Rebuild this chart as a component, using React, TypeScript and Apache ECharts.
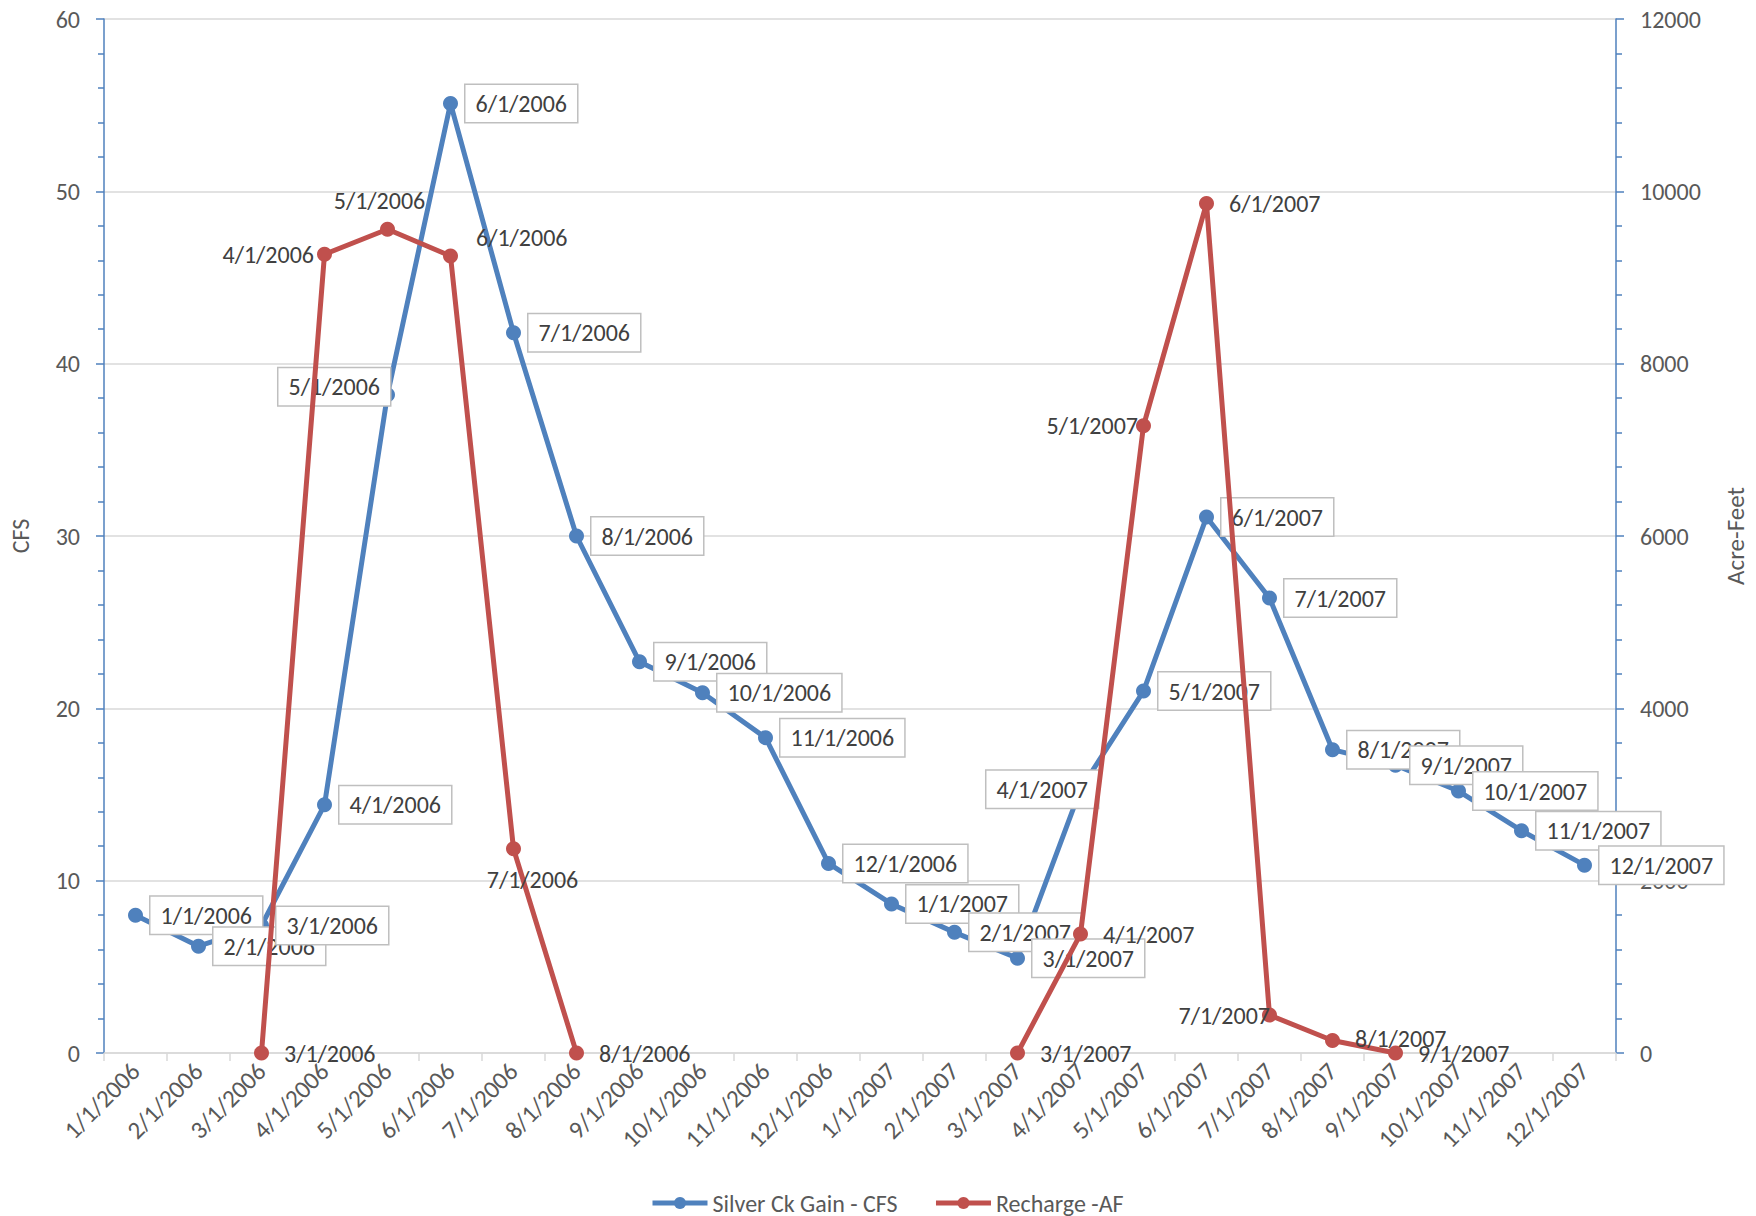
import React, { useEffect, useRef } from "react";
import * as echarts from "echarts";

const categories = [
  "1/1/2006", "2/1/2006", "3/1/2006", "4/1/2006", "5/1/2006", "6/1/2006",
  "7/1/2006", "8/1/2006", "9/1/2006", "10/1/2006", "11/1/2006", "12/1/2006",
  "1/1/2007", "2/1/2007", "3/1/2007", "4/1/2007", "5/1/2007", "6/1/2007",
  "7/1/2007", "8/1/2007", "9/1/2007", "10/1/2007", "11/1/2007", "12/1/2007",
];

const cfsValues = [
  8.0, 6.2, 7.4, 14.4, 38.2, 55.1, 41.8, 30.0, 22.7, 20.9, 18.3, 11.0,
  8.65, 7.0, 5.5, 15.3, 21.0, 31.1, 26.4, 17.6, 16.7, 15.2, 12.9, 10.9,
];

const rechargeValues: (number | null)[] = [
  null, null, 0, 9270, 9560, 9250, 2370, 0, null, null, null, null,
  null, null, 0, 1380, 7280, 9860, 440, 145, 0, null, null, null,
];

const seriesNames = ["Silver Ck Gain - CFS", "Recharge -AF"];
const leftTicks = { min: 0, max: 60, interval: 10 };
const rightTicks = { min: 0, max: 12000, interval: 2000 };

const BLUE = "#4F81BD";
const RED = "#C0504D";
const TEXT = "#404040";
const AXISTEXT = "#595959";
const FONT = "Carlito, Calibri, Lato, 'Open Sans', sans-serif";
const SYMBOL = 15;

// label placement (style only)
const blueLabelOverrides: Record<number, any> = {
  4: { position: "left", distance: -10, offset: [0, -8] },
  15: { position: "left", distance: -25, offset: [0, 0] },
};
const redLabelPlacement: Record<number, any> = {
  2: { position: "right", distance: 15 },
  3: { position: "left", distance: 3 },
  4: { position: "top", distance: 9, offset: [-8, 0] },
  5: { position: "right", distance: 18, offset: [0, -18] },
  6: { position: "bottom", distance: 11, offset: [19, 0] },
  7: { position: "right", distance: 15 },
  14: { position: "right", distance: 15 },
  15: { position: "right", distance: 15 },
  16: { position: "left", distance: -2 },
  17: { position: "right", distance: 15 },
  18: { position: "left", distance: -8 },
  19: { position: "right", distance: 15, offset: [0, -2] },
  20: { position: "right", distance: 15 },
};

export default function App() {
  const ref = useRef<HTMLDivElement>(null);

  useEffect(() => {
    if (!ref.current) return;
    const chart = echarts.init(ref.current, undefined, { renderer: "svg" });

    const blueData = cfsValues.map((v, i) => ({
      value: v,
      label: {
        show: true,
        position: "right",
        distance: 7.5,
        ...(blueLabelOverrides[i] || {}),
        formatter: (p: any) => p.name,
        color: TEXT,
        fontSize: 24,
        fontFamily: FONT,
        backgroundColor: "#FFFFFF",
        borderColor: "#BFBFBF",
        borderWidth: 1.5,
        padding: [7, 10, 6, 10],
      },
    }));

    const redData = rechargeValues.map((v, i) => {
      if (v === null) return null;
      return {
        value: v,
        label: {
          show: true,
          ...(redLabelPlacement[i] || { position: "right", distance: 15 }),
          formatter: (p: any) => p.name,
          color: TEXT,
          fontSize: 24,
          fontFamily: FONT,
        },
      };
    });

    const option: any = {
      animation: false,
      backgroundColor: "#FFFFFF",
      textStyle: { fontFamily: FONT },
      grid: { left: 92, right: 124, top: 19, bottom: 163, containLabel: false },
      legend: {
        data: seriesNames,
        left: 645,
        top: 1186,
        itemWidth: 55,
        itemHeight: 15,
        itemGap: 36,
        lineStyle: { width: 5 },
        textStyle: { fontSize: 24, color: AXISTEXT, fontFamily: FONT },
      },
      xAxis: {
        type: "category",
        data: categories,
        boundaryGap: true,
        axisLine: { lineStyle: { color: "#D9D9D9", width: 1.5 } },
        axisTick: { show: true, length: 8, lineStyle: { color: "#D9D9D9", width: 1.5 } },
        axisLabel: {
          rotate: 45,
          interval: 0,
          margin: 14,
          fontSize: 25,
          color: AXISTEXT,
          fontFamily: FONT,
        },
      },
      yAxis: [
        {
          type: "value",
          ...leftTicks,
          name: "CFS",
          nameLocation: "middle",
          nameGap: 72,
          nameRotate: 90,
          nameTextStyle: { fontSize: 24, color: AXISTEXT, fontFamily: FONT },
          axisLine: { show: true, lineStyle: { color: BLUE, width: 1.5 } },
          axisTick: { show: true, length: 8, lineStyle: { color: BLUE, width: 1.5 } },
          minorTick: { show: true, splitNumber: 5, length: 6, lineStyle: { color: BLUE, width: 1.5 } },
          axisLabel: { fontSize: 24, color: AXISTEXT, margin: 24, fontFamily: FONT },
          splitLine: { show: true, lineStyle: { color: "#D9D9D9", width: 1.5 } },
        },
        {
          type: "value",
          ...rightTicks,
          position: "right",
          name: "Acre-Feet",
          nameLocation: "middle",
          nameGap: 107,
          nameRotate: 90,
          nameTextStyle: { fontSize: 25, color: AXISTEXT, fontFamily: FONT },
          axisLine: { show: true, lineStyle: { color: BLUE, width: 1.5 } },
          axisTick: { show: true, length: 8, lineStyle: { color: BLUE, width: 1.5 } },
          minorTick: { show: true, splitNumber: 5, length: 6, lineStyle: { color: BLUE, width: 1.5 } },
          axisLabel: {
            fontSize: 24,
            color: AXISTEXT,
            margin: 24,
            fontFamily: FONT,
            formatter: (v: number) => String(v),
          },
          splitLine: { show: false },
        },
      ],
      series: [
        {
          name: seriesNames[0],
          type: "line",
          yAxisIndex: 0,
          data: blueData,
          symbol: "circle",
          symbolSize: SYMBOL,
          lineStyle: { color: BLUE, width: 5 },
          itemStyle: { color: BLUE },
          z: 2,
        },
        {
          name: seriesNames[1],
          type: "line",
          yAxisIndex: 1,
          data: redData,
          connectNulls: false,
          symbol: "circle",
          symbolSize: SYMBOL,
          lineStyle: { color: RED, width: 5 },
          itemStyle: { color: RED },
          z: 3,
        },
      ],
    };

    chart.setOption(option);
    return () => chart.dispose();
  }, []);

  return (
    <div
      ref={ref}
      style={{ position: "absolute", left: 0, top: 0, width: 1756, height: 1216 }}
    />
  );
}
